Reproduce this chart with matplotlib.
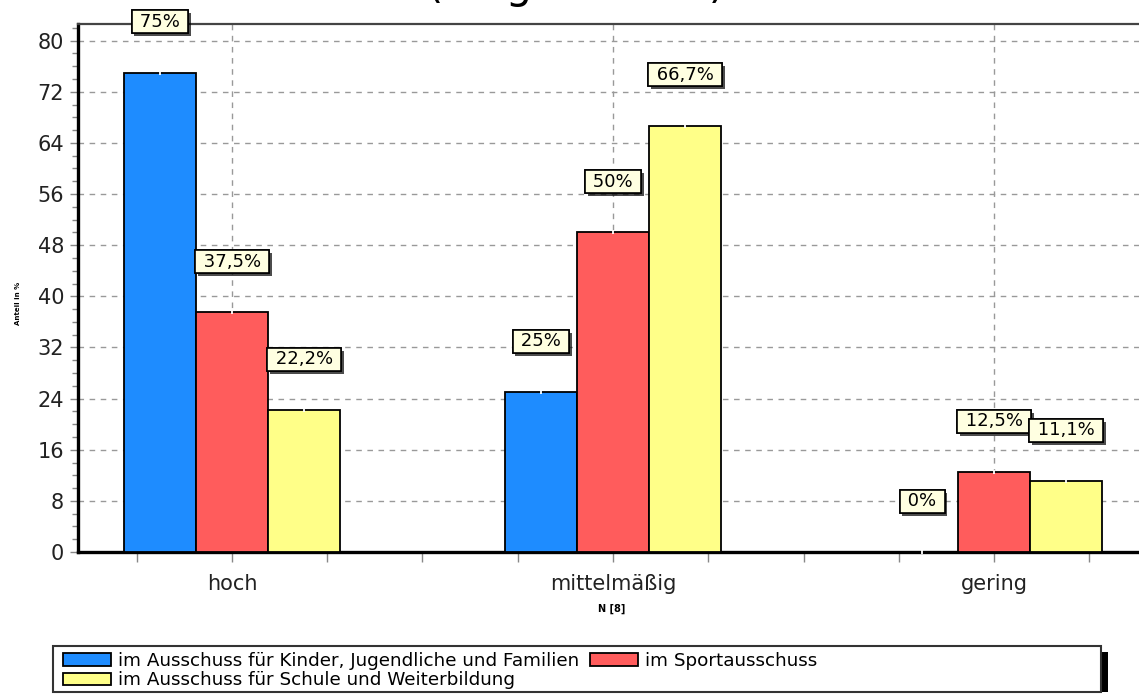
import matplotlib.pyplot as plt
import matplotlib.patheffects as pe
from matplotlib.patches import Rectangle
from matplotlib.ticker import MultipleLocator
import numpy as np

# Anteile je Ausschuss (in %)
kategorien = ['hoch', 'mittelmäßig', 'gering']
ausschuesse = ['im Ausschuss für Kinder, Jugendliche und Familien',
               'im Sportausschuss',
               'im Ausschuss für Schule und Weiterbildung']
kinder = [75, 25, 0]
sport = [37.5, 50, 12.5]
schule = [22.2, 66.7, 11.1]
beschriftung = [['75%', '25%', '0%'],
                ['37,5%', '50%', '12,5%'],
                ['22,2%', '66,7%', '11,1%']]

farben = ['#1e8cff', '#ff5c5c', '#ffff88']

W, H = 1139, 697
fig = plt.figure(figsize=(W / 100, H / 100), dpi=100)
# Achsenbereich in Pixeln: links 78, unten 552, oben 24, rechts ueber den Rand hinaus
ax = fig.add_axes([78 / W, 1 - 552 / H, (1148 - 78) / W, (552 - 24) / H])

x = np.arange(len(kategorien))
breite = 0.189
balken = []
for i, werte in enumerate([kinder, sport, schule]):
    pos = x + (i - 1) * breite
    b = ax.bar(pos, werte, breite, color=farben[i], edgecolor='black',
               linewidth=1.3, zorder=3, label=ausschuesse[i])
    balken.append(b)
    # kleine helle Kerbe in der Oberkante
    ax.plot(pos, werte, ls='none', marker='|', ms=3, mew=1.3, color='white',
            zorder=4, clip_on=False)
    for xp, wert, txt in zip(pos, werte, beschriftung[i]):
        t = ax.annotate(' ' + txt + ' ', (xp, wert), xytext=(0, 36.5),
                        textcoords='offset points', ha='center', va='center',
                        fontsize=13, zorder=10, annotation_clip=False,
                        bbox=dict(boxstyle='square,pad=0.14', fc='#ffffe1',
                                  ec='black', lw=1.2))
        t.get_bbox_patch().set_path_effects(
            [pe.withSimplePatchShadow(offset=(2, -2), shadow_rgbFace='black', alpha=0.7),
             pe.Normal()])

ax.set_xlim(-0.404, 2.404)
ax.set_ylim(0, 82.6)

ax.set_xticks(x)
ax.set_xticklabels(kategorien, fontsize=15)
ax.xaxis.set_minor_locator(MultipleLocator(0.25))
ax.yaxis.set_major_locator(MultipleLocator(8))
ax.yaxis.set_minor_locator(MultipleLocator(2))
ax.tick_params(axis='y', which='major', labelsize=15, length=6, width=1,
               color='#888888', pad=4, labelcolor='#222222')
ax.tick_params(axis='y', which='minor', length=4, width=1, color='#888888')
ax.tick_params(axis='x', which='both', length=7, width=1, color='#888888',
               pad=9, labelcolor='#222222')

ax.grid(True, which='major', color='#999999', linestyle=(0, (4, 4)),
        linewidth=1, zorder=0)
ax.set_axisbelow(True)

ax.spines['left'].set_linewidth(2.4)
ax.spines['bottom'].set_linewidth(2.4)
ax.spines['left'].set_color('black')
ax.spines['bottom'].set_color('black')
ax.spines['top'].set_linewidth(1.6)
ax.spines['top'].set_color('#444444')
ax.spines['right'].set_visible(False)

# Achsentitel (sehr klein)
fig.text(18 / W, 1 - 303 / H, 'Anteil in %', rotation=90, fontsize=5,
         fontweight='bold', ha='center', va='center')
fig.text(612 / W, 1 - 609 / H, 'N [8]', fontsize=7, fontweight='bold',
         ha='center', va='center')

# Titel, nur der untere Rand liegt im Bild
fig.text(576 / W, 1 + 2 / H, '(eingeschätzt)', fontsize=30,
         ha='center', va='baseline')

# Legendenrahmen mit Schatten
px = fig.transFigure.inverted()
def rect_px(x0, y0, x1, y1, **kw):
    (a, b) = px.transform((x0, H - y1))
    (c, d) = px.transform((x1, H - y0))
    return Rectangle((a, b), c - a, d - b, transform=fig.transFigure, **kw)

fig.patches.append(rect_px(60, 652, 1108, 692, fc='black', ec='none', zorder=1))
fig.patches.append(rect_px(53, 646, 1101, 692, fc='white', ec='#333333',
                           lw=1.5, zorder=2))

handles = [balken[0], balken[2], balken[1]]
labels = [ausschuesse[0], ausschuesse[2], ausschuesse[1]]
leg = fig.legend(handles, labels, ncol=2, loc='upper left',
                 bbox_to_anchor=(63 / W, 1 - 652 / H), frameon=False,
                 fontsize=13.2, handlelength=2.6, handleheight=0.7,
                 handletextpad=0.4, columnspacing=0.6, labelspacing=0.08,
                 borderpad=0, borderaxespad=0)
leg.set_zorder(5)

fig.savefig('out.png', dpi=100)
